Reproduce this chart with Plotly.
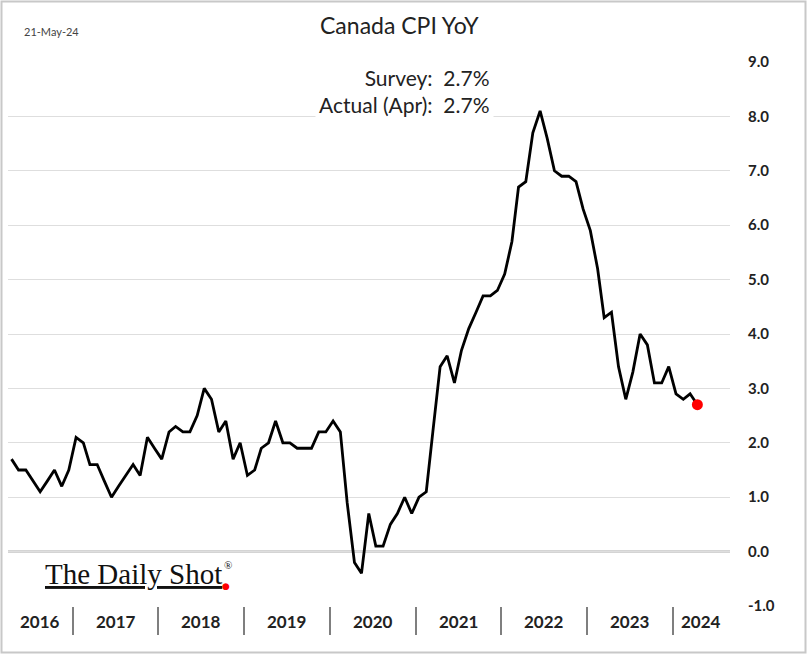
import pandas as pd
import plotly.graph_objects as go

# ---- data ----
start_month = "2016-04-01"
cpi_yoy = [
    1.7, 1.5, 1.5, 1.3, 1.1, 1.3, 1.5, 1.2, 1.5,                 # 2016 Apr-Dec
    2.1, 2.0, 1.6, 1.6, 1.3, 1.0, 1.2, 1.4, 1.6, 1.4, 2.1, 1.9,  # 2017
    1.7, 2.2, 2.3, 2.2, 2.2, 2.5, 3.0, 2.8, 2.2, 2.4, 1.7, 2.0,  # 2018
    1.4, 1.5, 1.9, 2.0, 2.4, 2.0, 2.0, 1.9, 1.9, 1.9, 2.2, 2.2,  # 2019
    2.4, 2.2, 0.9, -0.2, -0.4, 0.7, 0.1, 0.1, 0.5, 0.7, 1.0, 0.7,  # 2020
    1.0, 1.1, 2.2, 3.4, 3.6, 3.1, 3.7, 4.1, 4.4, 4.7, 4.7, 4.8,  # 2021
    5.1, 5.7, 6.7, 6.8, 7.7, 8.1, 7.6, 7.0, 6.9, 6.9, 6.8, 6.3,  # 2022
    5.9, 5.2, 4.3, 4.4, 3.4, 2.8, 3.3, 4.0, 3.8, 3.1, 3.1, 3.4,  # 2023
    2.9, 2.8, 2.9, 2.7,                                          # 2024 Jan-Apr
]
years = [2016, 2017, 2018, 2019, 2020, 2021, 2022, 2023, 2024]
y_ticks = [-1, 0, 1, 2, 3, 4, 5, 6, 7, 8, 9]
survey = 2.7
actual = 2.7

months = pd.date_range(start_month, periods=len(cpi_yoy), freq="MS") + pd.Timedelta(days=14)
x_start = pd.Timestamp("2016-03-31")
x_end = pd.Timestamp("2024-09-01")

W, H = 807, 654
ml, mr, mt, mb = 8, 77, 62, 48
pw, ph = W - ml - mr, H - mt - mb


def px_x(x):
    return (x - ml) / pw


def px_y(y):
    return (H - y - mb) / ph


fig = go.Figure()
fig.add_trace(go.Scatter(x=months, y=cpi_yoy, mode="lines",
                         line=dict(color="black", width=2.8), hoverinfo="skip"))
fig.add_trace(go.Scatter(x=[months[-1]], y=[cpi_yoy[-1]], mode="markers",
                         marker=dict(color="#ff0000", size=11), hoverinfo="skip"))

# year separators (Jan 1 of each year)
sep = [pd.Timestamp(f"{y}-01-01") for y in years[1:]]

annotations = []
for y in years:
    a = max(pd.Timestamp(f"{y}-01-01"), x_start)
    b = min(pd.Timestamp(f"{y+1}-01-01"), x_end)
    mid = a + (b - a) / 2
    annotations.append(dict(x=mid, xref="x", y=0, yref="paper", yanchor="middle",
                            yshift=-15, text=f"<b>{y}</b>", showarrow=False,
                            font=dict(family="Lato", size=17, color="#222")))

# title / date / survey text
annotations.append(dict(x=px_x(399), xref="paper", y=px_y(25), yref="paper",
                        text="Canada CPI YoY", showarrow=False, yanchor="middle",
                        font=dict(family="Lato", size=23, color="#222")))
annotations.append(dict(x=px_x(22), xref="paper", y=px_y(31), yref="paper",
                        text="21-May-24", showarrow=False, xanchor="left", yanchor="middle",
                        font=dict(family="Lato", size=11, color="#444")))
annotations.append(dict(x=px_x(494), xref="paper", y=px_y(91.5), yref="paper",
                        text=f"Survey:  {survey:.1f}%<br>Actual (Apr):  {actual:.1f}%",
                        showarrow=False, xanchor="right", yanchor="middle", align="right",
                        bgcolor="white", borderpad=3,
                        font=dict(family="Lato", size=21, color="#222")))
# logo
annotations.append(dict(x=px_x(43), xref="paper", y=px_y(574), yref="paper",
                        text="<span style='text-decoration:underline'>The Daily Shot</span>",
                        showarrow=False, xanchor="left", yanchor="middle",
                        font=dict(family="Liberation Serif", size=29, color="#111")))
annotations.append(dict(x=px_x(228), xref="paper", y=px_y(565), yref="paper",
                        text="®", showarrow=False, xanchor="center", yanchor="middle",
                        font=dict(family="Liberation Serif", size=11, color="#111")))
annotations.append(dict(x=px_x(226), xref="paper", y=px_y(586), yref="paper",
                        text="●", showarrow=False, xanchor="center", yanchor="middle",
                        font=dict(family="DejaVu Sans", size=9, color="#ff0000")))

shapes = [
    dict(type="line", xref="paper", yref="y", x0=0, x1=1, y0=0, y1=0,
         line=dict(color="#555", width=1.5), layer="below"),
    dict(type="rect", xref="paper", yref="paper",
         x0=px_x(1.5), x1=px_x(W - 1.5),
         y0=px_y(H - 1.5), y1=px_y(1.5),
         line=dict(color="#c8c8c8", width=2)),
]

fig.update_layout(
    width=W, height=H, margin=dict(l=ml, r=mr, t=mt, b=mb),
    paper_bgcolor="white", plot_bgcolor="white", showlegend=False,
    annotations=annotations, shapes=shapes,
    xaxis=dict(range=[x_start, x_end], type="date", tickvals=sep, showticklabels=False,
               ticks="outside", ticklen=28, tickwidth=2, tickcolor="#7f7f7f",
               showgrid=False, zeroline=False, showline=False, fixedrange=True),
    yaxis=dict(range=[-1, 9], side="right", tickvals=y_ticks,
               ticktext=[f"<b>{v:.1f}</b>" for v in y_ticks],
               showgrid=True, gridcolor="#dedede", gridwidth=1, zeroline=False,
               ticks="outside", ticklen=14, tickcolor="rgba(0,0,0,0)",
               tickfont=dict(family="Lato", size=15, color="#222"), fixedrange=True),
)

fig.write_html("out.html", config={"displayModeBar": False},
               post_script="document.body.style.margin='0';")
